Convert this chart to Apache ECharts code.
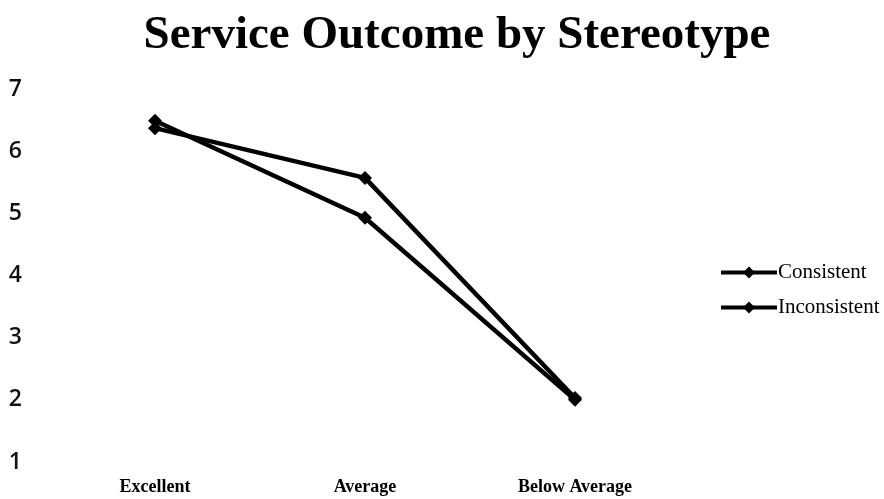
<!DOCTYPE html>
<html>
<head>
<meta charset="utf-8">
<script src="https://cdn.jsdelivr.net/npm/echarts@6/dist/echarts.min.js"></script>
<style>
  html, body { margin: 0; padding: 0; background: #fff; }
  #main { width: 884px; height: 499px; }
</style>
</head>
<body>
<div id="main"></div>
<script>
// 数据
const categories = ['Excellent', 'Average', 'Below Average'];
const consistent = [6.37, 5.57, 2.03];
const inconsistent = [6.49, 4.93, 2.0];
const yTicks = [1, 2, 3, 4, 5, 6, 7];

const chart = echarts.init(document.getElementById('main'));

const lineStyle = { color: '#000', width: 4.5 };

chart.setOption({
  animation: false,
  backgroundColor: '#fff',
  title: {
    text: 'Service Outcome by Stereotype',
    left: 452,
    top: 7,
    textAlign: 'center',
    textStyle: { fontFamily: 'Liberation Serif', fontWeight: 'bold', fontSize: 47, color: '#000' }
  },
  legend: {
    orient: 'vertical',
    left: 714,
    top: 257,
    itemWidth: 56,
    itemHeight: 15,
    itemGap: 14,
    textStyle: { fontFamily: 'Liberation Serif', fontSize: 21, color: '#000', padding: [0, 0, 0, -4] },
    data: [
      { name: 'Consistent', lineStyle: { width: 4, color: '#000' } },
      { name: 'Inconsistent', lineStyle: { width: 4, color: '#000' } }
    ]
  },
  grid: { left: 50, right: 204, top: 89, bottom: 37 },
  xAxis: {
    type: 'category',
    data: categories,
    boundaryGap: true,
    axisLine: { show: false },
    axisTick: { show: false },
    axisLabel: {
      margin: 16,
      fontFamily: 'Liberation Serif',
      fontWeight: 'bold',
      fontSize: 18,
      color: '#000'
    }
  },
  yAxis: {
    type: 'value',
    min: yTicks[0],
    max: yTicks[yTicks.length - 1],
    interval: 1,
    splitLine: { show: false },
    axisLine: { show: false },
    axisTick: { show: false },
    axisLabel: {
      margin: 28,
      align: 'right',
      fontFamily: 'Open Sans',
      fontWeight: 600,
      fontSize: 23,
      color: '#111'
    }
  },
  series: [
    {
      name: 'Consistent',
      type: 'line',
      data: consistent,
      symbol: 'diamond',
      symbolSize: 14,
      itemStyle: { color: '#000' },
      lineStyle: lineStyle
    },
    {
      name: 'Inconsistent',
      type: 'line',
      data: inconsistent,
      symbol: 'diamond',
      symbolSize: 14,
      itemStyle: { color: '#000' },
      lineStyle: lineStyle
    }
  ]
});
</script>
</body>
</html>
